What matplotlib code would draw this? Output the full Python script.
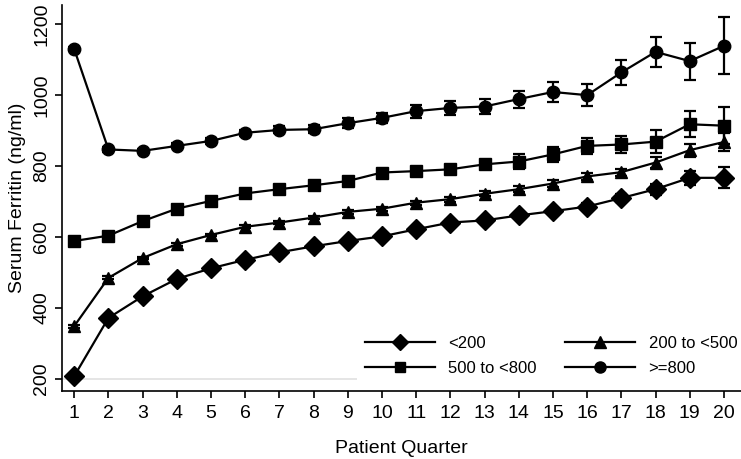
import matplotlib
matplotlib.use("Agg")
import matplotlib.pyplot as plt
from matplotlib.lines import Line2D

plt.rcParams['font.family'] = ['Liberation Sans', 'DejaVu Sans']

quarters = list(range(1, 21))

# mean serum ferritin per baseline group
lt200 = [208, 372, 433, 482, 512, 536, 557, 574, 589, 602,
         622, 641, 647, 661, 673, 686, 710, 735, 767, 767]
lt200_err = [4, 4, 4, 4, 4, 4, 5, 5, 5, 6,
             6, 7, 7, 8, 8, 9, 12, 16, 19, 30]

b200_500 = [349, 485, 541, 580, 606, 629, 641, 655, 671, 680,
            697, 707, 722, 735, 751, 771, 783, 810, 845, 868]
b200_500_err = [4, 4, 4, 4, 4, 4, 5, 5, 5, 6,
                6, 7, 7, 8, 9, 10, 10, 15, 18, 24]

b500_800 = [589, 604, 645, 680, 702, 723, 735, 746, 758, 782,
            786, 791, 805, 813, 833, 857, 861, 869, 918, 914]
b500_800_err = [5, 5, 5, 6, 6, 6, 7, 7, 8, 9,
                10, 10, 12, 20, 20, 23, 25, 32, 37, 53]

ge800 = [1130, 847, 843, 857, 871, 894, 902, 904, 921, 936,
         955, 964, 968, 989, 1009, 1000, 1064, 1122, 1096, 1139]
ge800_err = [6, 6, 6, 7, 8, 9, 10, 11, 14, 15,
             18, 20, 22, 24, 27, 31, 36, 42, 52, 80]

labels = ["<200", "200 to <500", "500 to <800", ">=800"]

fig = plt.figure(figsize=(7.41, 4.59), dpi=100)
ax = fig.add_axes([0.084, 0.148, 0.916, 0.841])

ax.axhline(200, color="#e0e0e0", lw=1.2, zorder=0)

common = dict(color="black", lw=1.6, elinewidth=1.6, capsize=4.5, capthick=1.6)
ax.errorbar(quarters, lt200, yerr=lt200_err, marker="D", ms=10, label=labels[0], **common)
ax.errorbar(quarters, b200_500, yerr=b200_500_err, marker="^", ms=9, label=labels[1], **common)
ax.errorbar(quarters, b500_800, yerr=b500_800_err, marker="s", ms=8.5, label=labels[2], **common)
ax.errorbar(quarters, ge800, yerr=ge800_err, marker="o", ms=9, label=labels[3], **common)

ax.set_xlim(0.65, 20.5)
ax.set_ylim(166, 1254)
ax.set_xticks(quarters)
ax.set_yticks([200, 400, 600, 800, 1000, 1200])
for lab in ax.get_yticklabels():
    lab.set_rotation(90)
    lab.set_va("center")
ax.tick_params(labelsize=14, length=5, width=1.2, direction="out")
ax.tick_params(axis="x", pad=5)
ax.set_xlabel("Patient Quarter", fontsize=14, labelpad=13)
ax.set_ylabel("Serum Ferritin (ng/ml)", fontsize=14, labelpad=5)

for s in ["top", "right"]:
    ax.spines[s].set_visible(False)
ax.spines["left"].set_linewidth(1.2)
ax.spines["bottom"].set_linewidth(1.2)

# legend handles without error bars
hl = [Line2D([], [], color="black", lw=1.6, marker=m, ms=s)
      for m, s in zip(["D", "^", "s", "o"], [8, 8, 7.5, 8])]
leg = ax.legend([hl[0], hl[2], hl[1], hl[3]],
                [labels[0], labels[2], labels[1], labels[3]],
                ncol=2, loc="lower right", bbox_to_anchor=(1.019, -0.005),
                fontsize=12, frameon=True, handlelength=4.2,
                columnspacing=1.7, handletextpad=0.8, labelspacing=0.6,
                borderpad=0.5, fancybox=False)
leg.get_frame().set_edgecolor("none")
leg.get_frame().set_facecolor("white")
leg.get_frame().set_alpha(1)

fig.savefig("out.png", dpi=100)
